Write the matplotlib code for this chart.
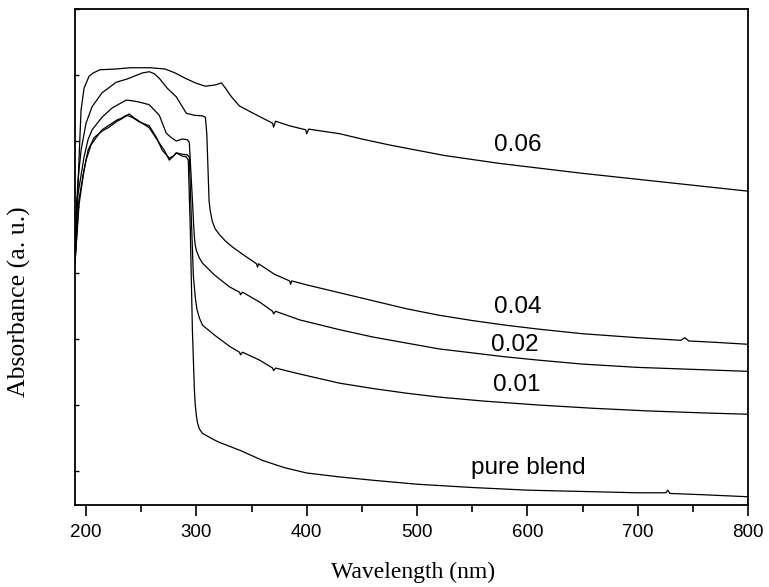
import matplotlib
matplotlib.use("Agg")
import matplotlib.pyplot as plt
from matplotlib.ticker import MultipleLocator, NullFormatter

plt.rcParams["font.family"] = ["Liberation Sans", "DejaVu Sans"]

# ---- data (wavelength in nm, absorbance in arbitrary units) ----
wl_006 = [190, 191.8, 193.6, 195.5, 198.2, 202.7, 206.4, 212.7, 226.4, 240, 258.2, 271.8,
          280.9, 290, 299.1, 308.2, 317.3, 322.7, 326.4, 331.8, 339.1, 352.7, 369.1, 370,
          371.8, 384.5, 399.1, 400, 401.8, 430, 450, 475, 500, 525, 550, 575, 600, 650,
          700, 750, 800]
ab_006 = [3.15, 3.85, 4.71, 5.47, 5.80, 5.98, 6.03, 6.08, 6.09, 6.11, 6.11, 6.09,
          6.03, 5.95, 5.88, 5.83, 5.85, 5.88, 5.80, 5.67, 5.53, 5.41, 5.27, 5.21,
          5.30, 5.23, 5.17, 5.11, 5.18, 5.11, 5.03, 4.94, 4.86, 4.78, 4.72, 4.66, 4.61, 4.51,
          4.42, 4.33, 4.24]

wl_004 = [190, 190.9, 192.7, 195.5, 200, 205.5, 214.5, 227.3, 237.3, 250.9, 257.3, 261.8,
          266.4, 273.6, 281.8, 290.9, 298.2, 305.5, 308.2, 309.5, 310.5, 311.5, 312.5, 314.5,
          317, 321, 326, 333, 344, 354.5, 355.5, 356.4, 370.9, 384.5, 385.5, 386.4, 400, 430,
          460, 490, 520, 550, 580, 610, 650, 700, 739.1, 742.7, 746.4, 770, 800]
ab_004 = [3.15, 3.85, 4.41, 4.86, 5.27, 5.52, 5.73, 5.89, 5.94, 6.03, 6.05, 6.02,
          5.95, 5.80, 5.67, 5.42, 5.39, 5.38, 5.36, 5.10, 4.60, 4.10, 3.95, 3.78,
          3.67, 3.58, 3.49, 3.39, 3.26, 3.14, 3.09, 3.14, 2.98, 2.88, 2.83, 2.88, 2.82, 2.70,
          2.58, 2.46, 2.36, 2.28, 2.21, 2.15, 2.08, 2.02, 1.98, 2.02, 1.97, 1.95, 1.92]

wl_002 = [190, 191.8, 195.5, 198.2, 201.8, 205.5, 214.5, 223.6, 230, 236.4, 241.8, 248.2,
          257.3, 266.4, 272.7, 277.3, 281.8, 287.3, 291.8, 293.6, 296.4, 297.3, 298.2, 299,
          300, 302.7, 305.5, 316.4, 330, 339.1, 340, 341.8, 357.3, 369.1, 370, 371.8, 393.6,
          430, 460, 490, 520, 550, 580, 610, 650, 700, 750, 800]
ab_002 = [3.15, 4.11, 4.48, 4.76, 5.02, 5.17, 5.36, 5.50, 5.56, 5.62, 5.61, 5.59,
          5.55, 5.39, 5.12, 5.05, 5.00, 5.03, 5.02, 4.98, 4.11, 3.80, 3.55, 3.42,
          3.34, 3.23, 3.15, 2.97, 2.79, 2.71, 2.67, 2.71, 2.56, 2.42, 2.38, 2.42, 2.29,
          2.14, 2.03, 1.94, 1.85, 1.79, 1.73, 1.68, 1.62, 1.57, 1.54, 1.51]

wl_001 = [190, 193.6, 197.3, 200, 204.5, 209.1, 214.5, 220.9, 228.2, 232.7, 236.4, 241.8,
          248.2, 257.3, 263.6, 269.1, 275.5, 279.1, 281.8, 287.3, 291.8, 293.6, 295.5, 297.3,
          299.1, 300.5, 302.7, 305.5, 316.4, 330, 339.1, 340, 341.8, 357.3, 369.1, 370, 371.8,
          393.6, 430, 460, 490, 520, 560, 610, 660, 710, 760, 800]
ab_001 = [3.15, 4.11, 4.48, 4.71, 4.94, 5.05, 5.17, 5.24, 5.32, 5.35, 5.39, 5.36,
          5.29, 5.23, 5.06, 4.86, 4.74, 4.77, 4.82, 4.80, 4.79, 4.76, 3.80, 2.95,
          2.62, 2.45, 2.32, 2.21, 2.06, 1.89, 1.80, 1.76, 1.80, 1.68, 1.56, 1.52, 1.56,
          1.47, 1.33, 1.25, 1.18, 1.12, 1.06, 1.00, 0.95, 0.91, 0.88, 0.86]

wl_pure = [190, 193.6, 198.2, 201.8, 207.3, 214.5, 220.9, 228.2, 231.8, 236.4, 239.1, 243.6,
           248.2, 257.3, 266.4, 270.9, 275.5, 279.1, 281.8, 287.3, 290.9, 292.7, 294.5, 296.4,
           298.2, 299, 300, 301, 302.7, 305.5, 316.4, 320, 340, 360, 380, 400, 430, 460, 500,
           550, 600, 650, 700, 725.5, 727.3, 729.1, 760, 800]
ab_pure = [3.15, 4.03, 4.56, 4.86, 5.05, 5.15, 5.21, 5.30, 5.33, 5.38, 5.41, 5.35,
           5.30, 5.20, 4.97, 4.86, 4.71, 4.77, 4.82, 4.77, 4.76, 4.71, 3.65, 2.14,
           1.23, 1.00, 0.84, 0.73, 0.64, 0.57, 0.47, 0.44, 0.31, 0.16, 0.05, -0.03, -0.09,
           -0.14, -0.20, -0.25, -0.29, -0.31, -0.33, -0.33, -0.29, -0.34, -0.36, -0.39]

series = [
    (wl_006, ab_006),
    (wl_004, ab_004),
    (wl_002, ab_002),
    (wl_001, ab_001),
    (wl_pure, ab_pure),
]

labels = ["0.06", "0.04", "0.02", "0.01", "pure blend"]
label_x = [590.9, 590.9, 588.2, 590.0, 600.9]
label_y = [4.94, 2.48, 1.91, 1.30, 0.05]

x_ticks = [200, 300, 400, 500, 600, 700, 800]

# ---- figure ----
fig = plt.figure(figsize=(7.69, 5.87), dpi=100)
ax = fig.add_axes([75 / 769, 1 - 505 / 587, (748 - 75) / 769, (505 - 9) / 587])

for wl, ab in series:
    ax.plot(wl, ab, color="black", lw=0.9)

for t, lx, ly in zip(labels, label_x, label_y):
    ax.text(lx, ly, t, ha="center", va="center", fontsize=17.5)

ax.set_xlim(190, 800)
ax.set_ylim(-0.515, 7.0)
ax.set_xticks(x_ticks)
ax.xaxis.set_minor_locator(MultipleLocator(50))
ax.set_yticks(range(0, 8))
ax.yaxis.set_major_formatter(NullFormatter())

ax.tick_params(axis="x", which="major", direction="out", length=8, width=1.2,
               labelsize=13.5, pad=5.5, top=False)
ax.tick_params(axis="x", which="minor", direction="out", length=5, width=1.2, top=False)
ax.tick_params(axis="y", which="major", direction="in", length=3, width=1.0, right=False)

for s in ax.spines.values():
    s.set_linewidth(1.3)

fig.text(413 / 769, 1 - 572 / 587, "Wavelength (nm)", family="Liberation Serif",
         fontsize=17, ha="center", va="center")
fig.text(19 / 769, 1 - 302 / 587, "Absorbance (a. u.)", family="Liberation Serif",
         fontsize=18.5, ha="center", va="center", rotation=90)

fig.savefig("out.png", dpi=100)
